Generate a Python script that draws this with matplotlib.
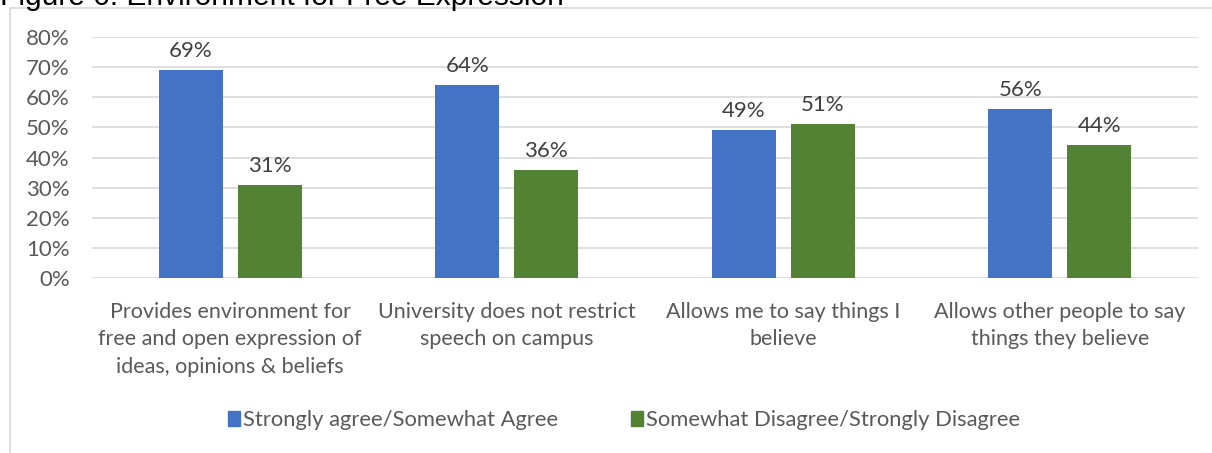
import matplotlib.pyplot as plt
import matplotlib.patches as mpatches
import numpy as np

# data
categories = [
    "Provides environment for\nfree and open expression of\nideas, opinions & beliefs",
    "University does not restrict\nspeech on campus",
    "Allows me to say things I\nbelieve",
    "Allows other people to say\nthings they believe",
]
agree    = [69, 64, 49, 56]
disagree = [31, 36, 51, 44]
series_names = ["Strongly agree/Somewhat Agree", "Somewhat Disagree/Strongly Disagree"]
yticks = [0, 10, 20, 30, 40, 50, 60, 70, 80]

BLUE  = "#4472C4"
GREEN = "#548235"
GREY  = "#595959"
FONT  = ["Lato", "DejaVu Sans"]

plt.rcParams['font.family'] = FONT

W, H = 1212, 453
fig = plt.figure(figsize=(W/100, H/100), dpi=100)

# plot area in pixel terms: x 92..1198, y 37(80%)..278(0%)
ax = fig.add_axes([92/W, 1-278/H, (1198-92)/W, (278-37)/H])

x = np.arange(len(categories))
bw = 0.232
off = 0.143
ax.bar(x - off, agree, bw, color=BLUE, label=series_names[0], zorder=3)
ax.bar(x + off, disagree, bw, color=GREEN, label=series_names[1], zorder=3)

for xi, v in zip(x - off, agree):
    ax.text(xi, v + 3.0, f"{v}%", ha='center', va='bottom', fontsize=16, color="#404040")
for xi, v in zip(x + off, disagree):
    ax.text(xi, v + 3.0, f"{v}%", ha='center', va='bottom', fontsize=16, color="#404040")

ax.set_xlim(-0.5, len(categories) - 0.5)
ax.set_ylim(0, 80)
ax.set_yticks(yticks)
ax.set_yticklabels([f"{t}%" for t in yticks], fontsize=16, color=GREY)
ax.set_xticks(x)
ax.set_xticklabels(categories, fontsize=15.5, color=GREY, linespacing=1.48)
ax.tick_params(axis='both', length=0)
ax.tick_params(axis='y', pad=16)
ax.tick_params(axis='x', pad=17)
ax.yaxis.grid(True, color="#D9D9D9", linewidth=1.2, zorder=0)
for s in ax.spines.values():
    s.set_visible(False)
ax.set_facecolor('none')

# legend
handles = [mpatches.Patch(color=BLUE), mpatches.Patch(color=GREEN)]
fig.legend(handles, series_names, loc='center', bbox_to_anchor=(624/W, 1-420/H),
           ncol=2, frameon=False, fontsize=15.8, labelcolor=GREY,
           handlelength=0.55, handleheight=0.7, handletextpad=0.15, columnspacing=3.3)

# chart frame
frame = mpatches.Rectangle((10/W, -0.05), 1.1, 1-8/H + 0.05, transform=fig.transFigure,
                           fill=False, edgecolor="#D9D9D9", linewidth=1.2)
fig.patches.append(frame)

# title, partly cut off at the top
fig.text(0/W, 1-5/H, "Figure 6: Environment for Free Expression", fontsize=21.5,
         family=["Liberation Sans", "DejaVu Sans"], color="black", ha='left', va='baseline')

fig.savefig("out.png", dpi=100)
